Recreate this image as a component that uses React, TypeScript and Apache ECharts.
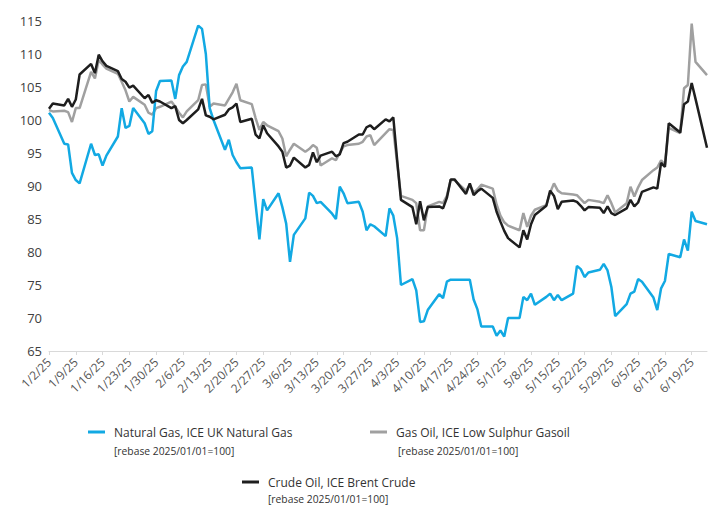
import React, { useEffect, useRef } from "react";
import * as echarts from "echarts";

// Trading days (2025)
const dates = [
  "1/2", "1/3", "1/6", "1/7", "1/8", "1/9", "1/10", "1/13", "1/14", "1/15", "1/16", "1/17", "1/20", "1/21", "1/22", "1/23", "1/24", "1/27", "1/28", "1/29", "1/30", "1/31",
  "2/3", "2/4", "2/5", "2/6", "2/7", "2/10", "2/11", "2/12", "2/13", "2/14", "2/17", "2/18", "2/19", "2/20", "2/21", "2/24", "2/25", "2/26", "2/27", "2/28",
  "3/3", "3/4", "3/5", "3/6", "3/7", "3/10", "3/11", "3/12", "3/13", "3/14", "3/17", "3/18", "3/19", "3/20", "3/21", "3/24", "3/25", "3/26", "3/27", "3/28", "3/31",
  "4/1", "4/2", "4/3", "4/4", "4/7", "4/8", "4/9", "4/10", "4/11", "4/14", "4/15", "4/16", "4/17", "4/18", "4/21", "4/22", "4/23", "4/24", "4/25", "4/28", "4/29", "4/30",
  "5/1", "5/2", "5/5", "5/6", "5/7", "5/8", "5/9", "5/12", "5/13", "5/14", "5/15", "5/16", "5/19", "5/20", "5/21", "5/22", "5/23", "5/26", "5/27", "5/28", "5/29", "5/30",
  "6/2", "6/3", "6/4", "6/5", "6/6", "6/9", "6/10", "6/11", "6/12", "6/13", "6/16", "6/17", "6/18", "6/19", "6/20", "6/23",
];

const natGas = [
  101.1, 100.3, 96.4, 96.3, 92.0, 90.9, 90.4, 96.4, 94.7, 94.8, 93.1, 94.6, 97.5, 101.8, 98.8, 99.1, 101.8, 99.5, 97.9, 98.3, 104.4, 105.9,
  106.0, 103.2, 106.8, 108.1, 108.8, 114.3, 113.8, 110.0, 101.8, 100.0, 95.5, 97.0, 94.7, 93.6, 92.7, 92.8, 87.3, 81.9, 88.0, 86.3,
  88.9, 86.8, 84.3, 78.5, 82.6, 85.1, 89.0, 88.5, 87.4, 87.6, 85.8, 85.0, 89.9, 88.9, 87.4, 87.6, 86.1, 83.3, 84.2, 83.9, 82.4,
  86.6, 85.5, 82.1, 75.0, 75.9, 74.2, 69.4, 69.5, 71.2, 73.6, 73.0, 75.5, 75.8, 75.8, 75.8, 75.8, 72.8, 71.3, 68.7, 68.7, 67.3, 68.1,
  67.2, 70.0, 70.0, 73.2, 72.7, 73.7, 72.0, 73.2, 73.7, 72.7, 73.5, 72.7, 73.7, 77.9, 77.4, 76.2, 76.9, 77.3, 78.2, 77.2, 74.7, 70.3,
  72.1, 73.7, 74.0, 75.9, 75.5, 73.1, 71.2, 74.5, 75.6, 79.7, 79.2, 81.9, 80.2, 86.1, 84.7, 84.2,
];

const gasOil = [
  101.5, 101.3, 101.4, 101.2, 99.7, 101.8, 101.8, 107.3, 106.3, 109.1, 108.4, 107.8, 107.0, 105.8, 104.5, 102.8, 103.5, 102.3, 101.1, 100.8, 101.8, 102.0,
  102.8, 102.0, 101.1, 100.4, 101.3, 103.0, 105.3, 105.4, 102.0, 102.5, 102.2, 103.2, 104.2, 105.5, 103.0, 102.4, 100.3, 98.5, 99.7, 99.2,
  98.3, 97.2, 94.5, 95.5, 96.4, 95.2, 95.6, 96.2, 95.8, 93.1, 94.2, 93.9, 95.0, 96.0, 96.2, 96.4, 96.7, 97.5, 97.7, 96.2, 98.0,
  98.6, 98.5, 93.5, 88.5, 87.9, 87.4, 83.3, 83.3, 86.9, 87.6, 87.4, 88.5, 90.9, 90.9, 89.3, 90.2, 89.0, 89.5, 90.2, 89.6, 87.2, 85.5,
  84.5, 84.0, 83.3, 85.9, 83.8, 85.5, 86.4, 87.1, 89.0, 90.4, 89.3, 88.9, 88.7, 88.6, 88.0, 87.4, 87.9, 87.6, 87.4, 88.6, 87.4, 86.0,
  87.4, 89.9, 88.4, 89.8, 90.9, 92.4, 92.8, 93.9, 93.2, 98.8, 98.0, 104.8, 105.3, 114.6, 108.8, 106.8,
];

const crude = [
  101.7, 102.5, 102.2, 103.2, 102.0, 103.1, 106.9, 108.5, 107.1, 109.9, 108.9, 108.2, 107.4, 106.2, 105.8, 104.9, 105.2, 103.3, 103.8, 102.6, 103.0, 102.8,
  101.8, 102.1, 100.0, 99.5, 100.0, 101.6, 103.2, 100.7, 100.5, 100.1, 100.8, 101.6, 101.9, 102.5, 99.7, 100.2, 97.8, 97.2, 99.2, 98.0,
  96.0, 95.2, 92.8, 93.1, 94.3, 92.8, 93.2, 95.1, 93.6, 94.6, 95.2, 94.5, 94.8, 96.5, 96.7, 97.8, 97.8, 98.9, 99.2, 98.6, 100.1,
  99.8, 100.4, 94.0, 87.9, 86.8, 84.2, 87.7, 84.8, 86.8, 86.9, 86.6, 88.2, 91.0, 91.0, 88.8, 90.4, 88.6, 89.2, 89.6, 88.2, 86.1, 84.6,
  83.2, 82.1, 80.7, 83.3, 81.9, 84.2, 85.6, 87.0, 89.3, 88.5, 86.5, 87.6, 87.8, 87.6, 87.0, 86.3, 86.8, 86.7, 85.9, 86.9, 85.9, 85.6,
  86.6, 87.9, 86.9, 87.5, 89.1, 89.8, 89.6, 93.5, 92.9, 99.5, 98.1, 102.4, 102.8, 105.6, 103.2, 95.8,
];

const seriesNames = [
  "Natural Gas, ICE UK Natural Gas",
  "Gas Oil, ICE Low Sulphur Gasoil",
  "Crude Oil, ICE Brent Crude",
];
const subtitle = "[rebase 2025/01/01=100]";
const yMin = 65;
const yMax = 115;
const yStep = 5;
const xTickStepDays = 7;
const lastDay = "6/23";

const DAY = 86400000;
const base = Date.UTC(2025, 0, 2);
function dayOffset(md: string): number {
  const [m, d] = md.split("/").map(Number);
  return Math.round((Date.UTC(2025, m - 1, d) - base) / DAY);
}
function labelFor(off: number): string {
  const dt = new Date(base + off * DAY);
  return `${dt.getUTCMonth() + 1}/${dt.getUTCDate()}/25`;
}

export default function App() {
  const ref = useRef<HTMLDivElement>(null);
  useEffect(() => {
    if (!ref.current) return;
    const chart = echarts.init(ref.current, undefined, { renderer: "svg" });
    const maxOff = dayOffset(lastDay);
    const tickVals: number[] = [];
    for (let v = 0; v <= maxOff; v += xTickStepDays) tickVals.push(v);
    const toPts = (arr: number[]) => dates.map((d, i) => [dayOffset(d), arr[i]]);
    const font = "'Open Sans', sans-serif";
    const legendBase = {
      icon: "rect",
      itemWidth: 17,
      itemHeight: 3,
      selectedMode: false,
      padding: 0,
      textStyle: { fontSize: 12, color: "#333", fontFamily: font, padding: [0, 0, 0, 4] },
    };
    chart.setOption({
      animation: false,
      textStyle: { fontFamily: font },
      grid: { left: 49, right: 2, top: 21, bottom: 156, containLabel: false },
      xAxis: {
        type: "value",
        min: 0,
        max: maxOff,
        interval: xTickStepDays,
        splitLine: { show: false },
        axisLine: { show: true, lineStyle: { color: "#d9d9d9", width: 1 } },
        axisTick: { show: true, length: 4, lineStyle: { color: "#d9d9d9" }, customValues: tickVals },
        axisLabel: {
          rotate: 45,
          fontSize: 12,
          color: "#555",
          margin: 9,
          customValues: tickVals,
          formatter: (v: number) => (v % xTickStepDays === 0 ? labelFor(v) : ""),
        },
      },
      yAxis: {
        type: "value",
        min: yMin,
        max: yMax,
        interval: yStep,
        splitLine: { show: false },
        axisLine: { show: false },
        axisTick: { show: false },
        axisLabel: { fontSize: 13, color: "#404040", margin: 7 },
      },
      legend: [
        { ...legendBase, data: [seriesNames[0]], left: 88, top: 426 },
        { ...legendBase, data: [seriesNames[1]], left: 370, top: 426 },
        { ...legendBase, data: [seriesNames[2]], left: 242, top: 476 },
      ],
      graphic: [
        { type: "text", left: 114, top: 446, style: { text: subtitle, fontSize: 10.3, fill: "#333", fontFamily: font } },
        { type: "text", left: 398, top: 446, style: { text: subtitle, fontSize: 10.3, fill: "#333", fontFamily: font } },
        { type: "text", left: 268, top: 494, style: { text: subtitle, fontSize: 10.3, fill: "#333", fontFamily: font } },
      ],
      series: [
        {
          name: seriesNames[1],
          type: "line",
          data: toPts(gasOil),
          showSymbol: false,
          symbol: "none",
          color: "#a0a0a0",
          lineStyle: { width: 2.5, color: "#a0a0a0" },
          z: 2,
        },
        {
          name: seriesNames[0],
          type: "line",
          data: toPts(natGas),
          showSymbol: false,
          symbol: "none",
          color: "#12a9e3",
          lineStyle: { width: 2.5, color: "#12a9e3" },
          z: 3,
        },
        {
          name: seriesNames[2],
          type: "line",
          data: toPts(crude),
          showSymbol: false,
          symbol: "none",
          color: "#1e1e1e",
          lineStyle: { width: 2.5, color: "#1e1e1e" },
          z: 4,
        },
      ],
    });
    return () => chart.dispose();
  }, []);
  return (
    <div
      ref={ref}
      style={{ position: "absolute", left: 0, top: 0, width: 709, height: 507, background: "#fff" }}
    />
  );
}
